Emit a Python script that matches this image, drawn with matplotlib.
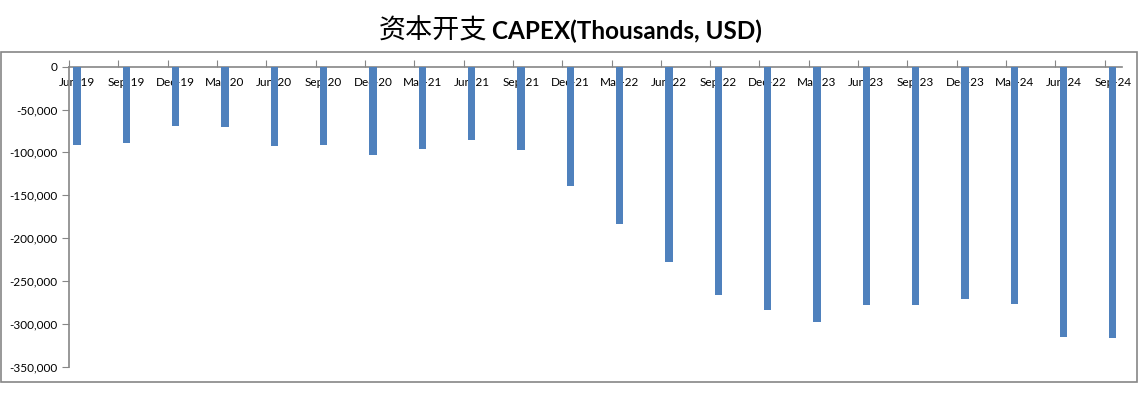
import numpy as np
import matplotlib.pyplot as plt
from matplotlib.patches import Rectangle
from matplotlib.ticker import FuncFormatter
import matplotlib.transforms as mtransforms

quarters = ['Jun-19', 'Sep-19', 'Dec-19', 'Mar-20', 'Jun-20', 'Sep-20', 'Dec-20',
            'Mar-21', 'Jun-21', 'Sep-21', 'Dec-21', 'Mar-22', 'Jun-22', 'Sep-22',
            'Dec-22', 'Mar-23', 'Jun-23', 'Sep-23', 'Dec-23', 'Mar-24', 'Jun-24',
            'Sep-24']
capex = [-91000, -89000, -69000, -70500, -92500, -91500, -103000,
         -96000, -85500, -97000, -139000, -184000, -227500, -266000,
         -284000, -298000, -278000, -278000, -271000, -277000, -315000,
         -316500]
y_ticks = [0, -50000, -100000, -150000, -200000, -250000, -300000, -350000]

W, H = 1143, 397
bar_color = '#4F81BD'
axis_color = '#868686'


def px(x0, y0, x1, y1):
    # pixel box (top-left origin) -> figure fraction [l, b, w, h]
    return [x0 / W, 1 - y1 / H, (x1 - x0) / W, (y1 - y0) / H]


def main():
    fig = plt.figure(figsize=(W / 100, H / 100), dpi=100)

    # outer chart frame
    fig.patches.append(Rectangle((0.5 / W, 1 - 382 / H), 1136 / W, (382 - 52.3) / H,
                                 transform=fig.transFigure, fill=False,
                                 edgecolor=axis_color, linewidth=1.2))

    ax = fig.add_axes(px(69, 66.7, 1121.7, 366.7))
    x = np.arange(len(quarters))
    ax.bar(x, capex, width=0.148, color=bar_color, zorder=3)

    ax.set_xlim(-0.164, len(quarters) - 1 + 0.18)
    ax.set_ylim(-350000, 0)

    ax.set_yticks(y_ticks)
    ax.yaxis.set_major_formatter(FuncFormatter(lambda v, p: f'{int(v):,}'))
    ax.tick_params(axis='y', length=5, color=axis_color, labelsize=8.5,
                   labelcolor='black', pad=3)
    for lab in ax.get_yticklabels():
        lab.set_family('Lato')

    # category ticks sit on the zero line, pointing up
    ax.xaxis.set_ticks_position('top')
    ax.set_xticks(x - 0.164)
    ax.set_xticklabels([])
    ax.tick_params(axis='x', length=5, color=axis_color, direction='out')

    trans = mtransforms.blended_transform_factory(ax.transData, ax.transAxes)
    for xi, q in zip(x, quarters):
        ax.text(xi, 1 - 16.3 / 300, q, transform=trans, ha='center', va='center',
                fontsize=8.5, family='Lato', color='black', zorder=2)

    for side in ['right', 'bottom']:
        ax.spines[side].set_visible(False)
    for side in ['left', 'top']:
        ax.spines[side].set_color(axis_color)
        ax.spines[side].set_linewidth(1.2)

    fig.text(487 / W, 1 - 31 / H, '资本开支', ha='right', va='center',
             fontsize=19.5, family=['Noto Sans CJK SC', 'DejaVu Sans'])
    fig.text(492 / W, 1 - 31 / H, 'CAPEX(Thousands, USD)', ha='left', va='center',
             fontsize=17.5, family='Lato', weight='bold')

    fig.savefig('out.png', dpi=100)


main()
